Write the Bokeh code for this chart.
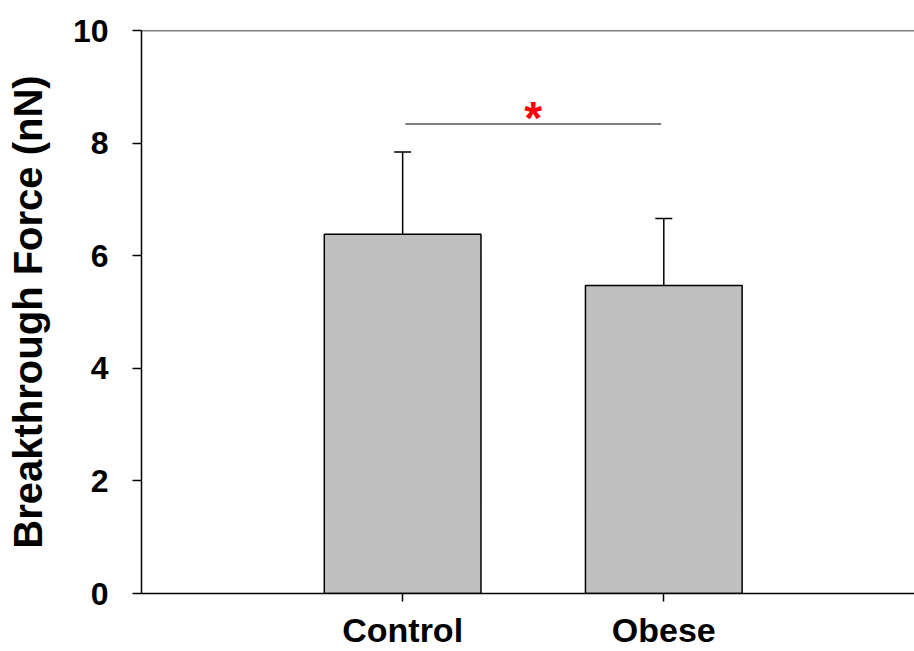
from bokeh.plotting import figure
from bokeh.models import ColumnDataSource, Whisker, TeeHead, FixedTicker, Span, Range1d
from bokeh.core.properties import value
from bokeh.embed import file_html
from bokeh.resources import INLINE

# data
groups = ["Control", "Obese"]
group_x = [1, 2]
means = [6.38, 5.47]
errors = [1.46, 1.19]
y_ticks = [0, 2, 4, 6, 8, 10]
sig_x = [1.01, 1.99]
sig_y = [8.34, 8.34]
star_label = ["*"]
star_x = [1.5]
star_y = [8.45]

FONT = "Liberation Sans"

p = figure(width=914, height=651, output_backend="svg", toolbar_location=None,
           x_range=Range1d(0, 2.96), y_range=Range1d(0, 10),
           min_border_left=141, min_border_top=30, min_border_bottom=58, min_border_right=0)
p.outline_line_color = None
p.grid.visible = False
p.background_fill_color = "white"

src = ColumnDataSource(dict(x=group_x, top=means,
                            upper=[m + e for m, e in zip(means, errors)]))

p.vbar(x="x", top="top", bottom=0, width=0.6, source=src,
       fill_color="#c0c0c0", line_color="black", line_width=1.5)

w = Whisker(base="x", lower="top", upper="upper", source=src,
            line_color="black", line_width=1.5,
            upper_head=TeeHead(size=17, line_color="black", line_width=1.5),
            lower_head=None)
p.add_layout(w)

p.line(sig_x, sig_y, line_color="#555555", line_width=1.5)
p.text(x=star_x, y=star_y, text=star_label, text_color="red",
       text_font=value(FONT), text_font_style="bold", text_font_size="46px",
       text_align="center", text_baseline="alphabetic")

top_line = Span(location=10, dimension="width", line_color="black", line_width=1.5)
p.add_layout(top_line)

# y axis
p.yaxis.ticker = FixedTicker(ticks=y_ticks)
p.yaxis.axis_label = "Breakthrough Force (nN)"
p.yaxis.axis_label_text_font = FONT
p.yaxis.axis_label_text_font_style = "bold"
p.yaxis.axis_label_text_font_size = "40px"
p.yaxis.axis_label_text_color = "black"
p.yaxis.axis_label_standoff = 20
p.yaxis.major_label_text_font = FONT
p.yaxis.major_label_text_font_style = "bold"
p.yaxis.major_label_text_font_size = "32px"
p.yaxis.major_label_text_color = "black"
p.yaxis.major_label_standoff = 24
p.yaxis.major_tick_in = 0
p.yaxis.major_tick_out = 9
p.yaxis.minor_tick_line_color = None
p.yaxis.axis_line_width = 1.5
p.yaxis.major_tick_line_width = 1.5

# x axis
p.xaxis.ticker = FixedTicker(ticks=group_x)
p.xaxis.major_label_overrides = {gx: g for gx, g in zip(group_x, groups)}
p.xaxis.major_label_text_font = FONT
p.xaxis.major_label_text_font_style = "bold"
p.xaxis.major_label_text_font_size = "34px"
p.xaxis.major_label_text_color = "black"
p.xaxis.major_label_standoff = 9
p.xaxis.major_tick_in = 0
p.xaxis.major_tick_out = 8
p.xaxis.minor_tick_line_color = None
p.xaxis.axis_line_width = 1.5
p.xaxis.major_tick_line_width = 1.5

open("out.html", "w").write(file_html(p, INLINE))
